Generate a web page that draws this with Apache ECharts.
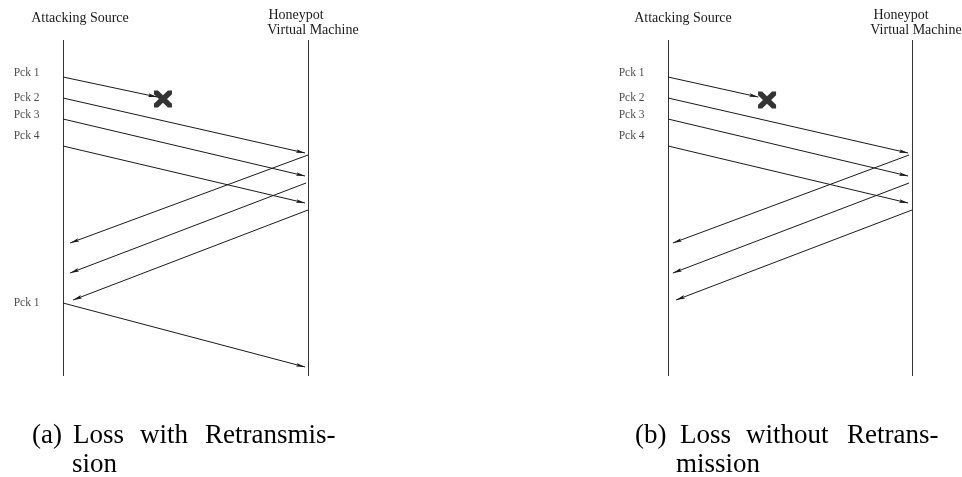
<!DOCTYPE html>
<html>
<head>
<meta charset="utf-8">
<title>Loss with / without retransmission</title>
<script src="https://cdn.jsdelivr.net/npm/echarts@6.0.0/dist/echarts.min.js"></script>
<style>
	html, body { margin: 0; padding: 0; background: #fff; }
	#main { width: 962px; height: 477px; }
</style>
</head>
<body>
<div id="main"></div>
<script>
// x: 0 = attacking source, 1 = honeypot VM ; t: time going down
var lifeline = [0, 336];

// panel (a) : loss with retransmission
var lostA = [[0, 37], [0.384, 57]];
var sentA = [
	[[0, 58], [0.988, 113]],
	[[0, 79], [0.988, 136]],
	[[0, 106], [0.988, 163]],
	[[0, 263], [0.988, 327]]
];
var ackA = [
	[[1, 115], [0.029, 203]],
	[[0.992, 143], [0.029, 233]],
	[[1, 170], [0.041, 260]]
];
var crossA = [0.408, 59];
var pckNamesA = ['Pck 1', 'Pck 2', 'Pck 3', 'Pck 4', 'Pck 1'];
var pckTimesA = [33, 58, 75, 96, 263];

// panel (b) : loss without retransmission
var lostB = [[0, 37], [0.37, 57]];
var sentB = [
	[[0, 58], [0.984, 113]],
	[[0, 79], [0.984, 136]],
	[[0, 106], [0.984, 163]]
];
var ackB = [
	[[0.988, 115], [0.02, 203]],
	[[0.988, 143], [0.02, 233]],
	[[1, 170], [0.033, 260]]
];
var crossB = [0.406, 60];
var pckNamesB = ['Pck 1', 'Pck 2', 'Pck 3', 'Pck 4'];
var pckTimesB = [33, 58, 75, 96];

var captionA = [['(a)', 'Loss', 'with', 'Retransmis-'], ['sion']];
var captionB = [['(b)', 'Loss', 'without', 'Retrans-'], ['mission']];

var serif = 'Liberation Serif';
var ink = '#1a1a1a';
// chevron with its tip at the box centre
var arrowPath = 'path://M0,0 M20,20 M10,10 L12,20 L10,18.2 L8,20 Z';
var crossPath = 'path://M0,0 L4.5,0 L10,5.5 L15.5,0 L20,0 L20,4.5 L14.5,10 L20,15.5 L20,20 L15.5,20 L10,14.5 L4.5,20 L0,20 L0,15.5 L5.5,10 L0,4.5 Z';

function panelSeries(idx, lost, sent, ack, cross, names, times) {
	var msgs = [lost].concat(sent).concat(ack).map(function (c) {
		return { coords: c };
	});
	var pck = names.map(function (n, i) {
		return { value: [0, times[i]], name: n };
	});
	return [{
		type: 'lines',
		coordinateSystem: 'cartesian2d',
		xAxisIndex: idx,
		yAxisIndex: idx,
		symbol: 'none',
		lineStyle: { color: '#333', width: 1, opacity: 1 },
		data: [
			{ coords: [[0, lifeline[0]], [0, lifeline[1]]] },
			{ coords: [[1, lifeline[0]], [1, lifeline[1]]] }
		],
		silent: true
	}, {
		type: 'lines',
		coordinateSystem: 'cartesian2d',
		xAxisIndex: idx,
		yAxisIndex: idx,
		symbol: ['none', arrowPath],
		symbolSize: 18,
		lineStyle: { color: ink, width: 1, opacity: 1 },
		data: msgs
	}, {
		type: 'scatter',
		xAxisIndex: idx,
		yAxisIndex: idx,
		symbol: crossPath,
		symbolSize: [18, 17],
		itemStyle: { color: '#000' },
		data: [cross]
	}, {
		type: 'scatter',
		xAxisIndex: idx,
		yAxisIndex: idx,
		symbolSize: 1,
		itemStyle: { color: 'rgba(0,0,0,0)' },
		label: {
			show: true,
			position: 'left',
			distance: 23,
			formatter: '{b}',
			color: ink,
			fontFamily: serif,
			fontSize: 11.5
		},
		data: pck
	}];
}

function captionText(lines, xs, ys) {
	var out = [];
	lines.forEach(function (words, li) {
		words.forEach(function (w, wi) {
			out.push({
				type: 'text',
				x: xs[li][wi],
				y: ys[li],
				style: {
					text: w,
					fill: '#000',
					font: '27px "' + serif + '"',
					textVerticalAlign: 'middle'
				}
			});
		});
	});
	return out;
}

function header(text, cx, cy) {
	return {
		type: 'text',
		x: cx,
		y: cy,
		style: {
			text: text,
			fill: ink,
			font: '14px "' + serif + '"',
			textAlign: 'center',
			textVerticalAlign: 'middle'
		}
	};
}

var chart = echarts.init(document.getElementById('main'));
var option = {
	animation: false,
	backgroundColor: '#fff',
	grid: [
		{ left: 63, top: 40, width: 245, height: 336 },
		{ left: 668, top: 40, width: 244, height: 336 }
	],
	xAxis: [
		{ type: 'value', gridIndex: 0, min: 0, max: 1, show: false },
		{ type: 'value', gridIndex: 1, min: 0, max: 1, show: false }
	],
	yAxis: [
		{ type: 'value', gridIndex: 0, min: 0, max: 336, inverse: true, show: false },
		{ type: 'value', gridIndex: 1, min: 0, max: 336, inverse: true, show: false }
	],
	graphic: [
		header('Attacking Source', 80, 18),
		header('Honeypot', 296, 15),
		header('Virtual Machine', 313, 30),
		header('Attacking Source', 683, 18),
		header('Honeypot', 901, 15),
		header('Virtual Machine', 916, 30)
	].concat(captionText(captionA, [[32, 73, 140, 205], [72]], [436, 465]))
	 .concat(captionText(captionB, [[635, 680, 746, 847], [676]], [436, 465])),
	series: panelSeries(0, lostA, sentA, ackA, crossA, pckNamesA, pckTimesA)
		.concat(panelSeries(1, lostB, sentB, ackB, crossB, pckNamesB, pckTimesB))
};
chart.setOption(option);
</script>
</body>
</html>
